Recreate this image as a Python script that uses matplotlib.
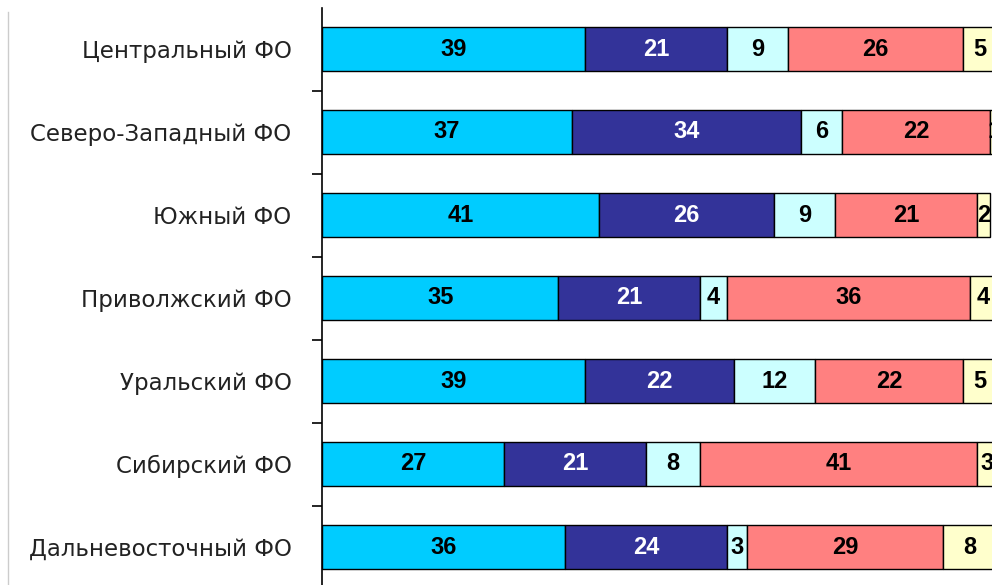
import matplotlib.pyplot as plt
from matplotlib.lines import Line2D

regions = ['Центральный ФО', 'Северо-Западный ФО', 'Южный ФО', 'Приволжский ФО',
           'Уральский ФО', 'Сибирский ФО', 'Дальневосточный ФО']
s1 = [39, 37, 41, 35, 39, 27, 36]
s2 = [21, 34, 26, 21, 22, 21, 24]
s3 = [9, 6, 9, 4, 12, 8, 3]
s4 = [26, 22, 21, 36, 22, 41, 29]
s5 = [5, 1, 2, 4, 5, 3, 8]
series = [s1, s2, s3, s4, s5]
colors = ['#00CCFF', '#333399', '#CCFFFF', '#FF8080', '#FFFFCC']
text_colors = ['black', 'white', 'black', 'black', 'black']

fig = plt.figure(figsize=(9.92, 5.85), dpi=100)
ax = fig.add_axes([322 / 992, -3.5 / 585, 675 / 992, 581 / 585])

y = list(range(len(regions)))
left = [0] * len(regions)
for vals, c, tc in zip(series, colors, text_colors):
    bars = ax.barh(y, vals, left=left, height=0.53, color=c,
                   edgecolor='black', linewidth=1.0)
    for b, v in zip(bars, vals):
        ax.text(b.get_x() + b.get_width() / 2, b.get_y() + b.get_height() / 2,
                str(v), ha='center', va='center', color=tc,
                fontsize=17, fontweight='bold', family='Liberation Sans')
    left = [l + v for l, v in zip(left, vals)]

ax.set_xlim(0, 100)
ax.set_ylim(len(regions) - 0.5, -0.5)
ax.set_xticks([])
ax.set_yticks([i + 0.5 for i in range(len(regions) - 1)])
ax.set_yticklabels([])
ax.set_yticks(y, minor=True)
ax.set_yticklabels(regions, minor=True, fontsize=16.5, color='#222222')
ax.tick_params(axis='y', which='major', length=7, width=1.2, direction='out')
ax.tick_params(axis='y', which='minor', length=0, pad=22)
for side in ['top', 'right', 'bottom']:
    ax.spines[side].set_visible(False)
ax.spines['left'].set_linewidth(1.2)

fig.add_artist(Line2D([8 / 992, 8 / 992], [0, 1 - 12 / 585],
                      color='#cccccc', linewidth=1))

fig.savefig('out.png', dpi=100)
